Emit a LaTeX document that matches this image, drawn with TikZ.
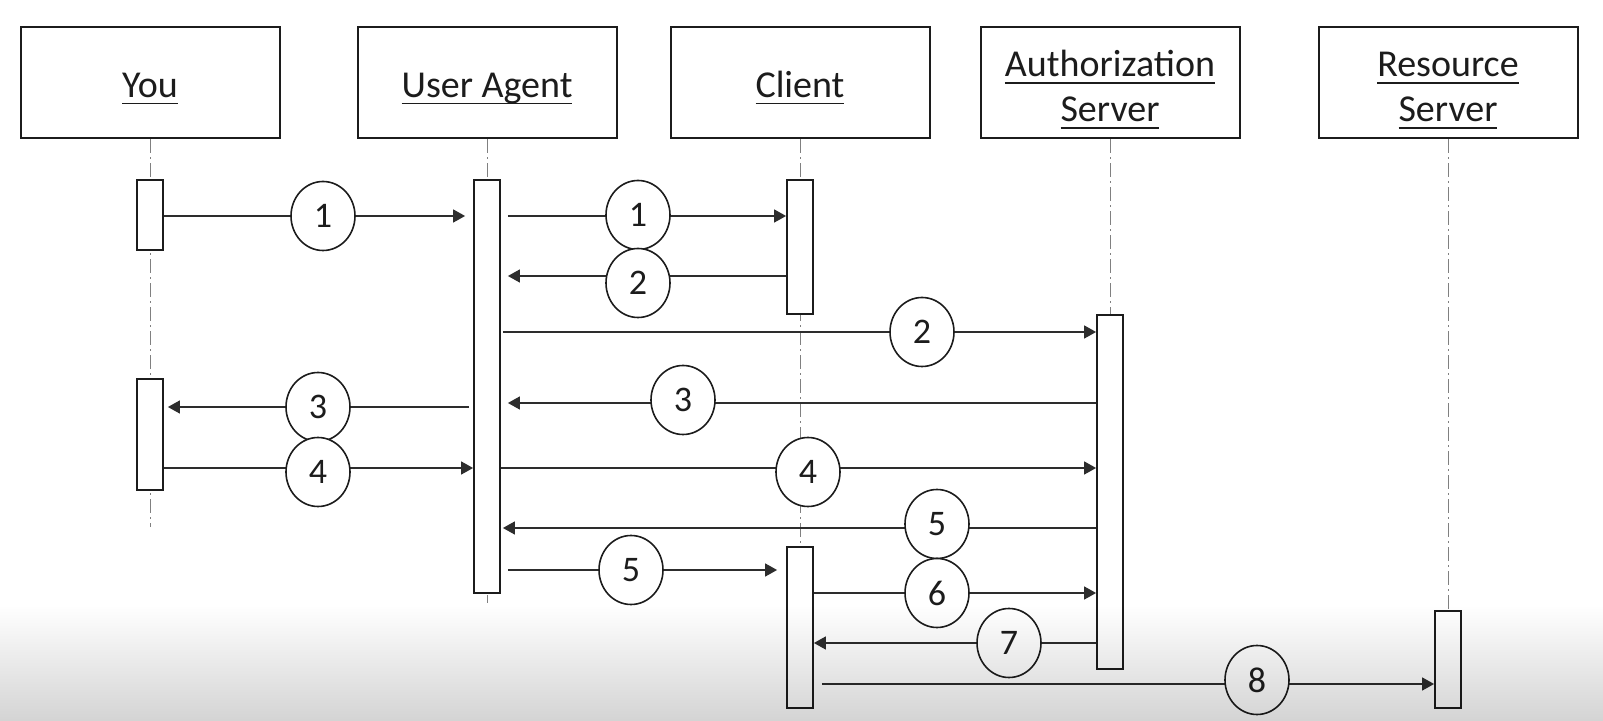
\documentclass[tikz,border=0pt]{standalone}
\usepackage{fontspec}
\setmainfont{Carlito}
\usepackage{tikz}
\usetikzlibrary{arrows.meta,shapes.geometric}
\definecolor{ink}{RGB}{28,28,28}
\definecolor{wire}{RGB}{45,45,45}
\newcommand{\ulbl}[1]{\setbox0=\hbox{#1}\rlap{\rule[-3.5pt]{\wd0}{0.9pt}}\box0}
\tikzset{
  actor/.style={draw=ink, line width=1pt, minimum width=129.5pt, minimum height=55.5pt,
    align=center, inner sep=0pt, text=ink, font=\fontsize{19}{22.5}\selectfont,
    execute at begin node=\rule{0pt}{18pt}},
  life/.style={draw=gray, line width=0.5pt, dash pattern=on 7pt off 2pt on 1pt off 2pt},
  bar/.style={draw=ink, line width=0.9pt, fill=white, minimum width=13pt, inner sep=0pt},
  num/.style={ellipse, draw=ink, line width=0.8pt, fill=white, minimum width=32pt,
    minimum height=34.5pt, inner sep=0pt, text=ink, font=\fontsize{18}{20}\selectfont},
  msg/.style={draw=wire, line width=0.75pt, -{Triangle[length=6pt,width=6.5pt]}}
}
\begin{document}
\begin{tikzpicture}[x=0.5pt,y=-0.5pt]
  \useasboundingbox (0,0) rectangle (1603,721);
  % participants
  \foreach \nm/\x/\txt in {you/150/\ulbl{You}, ua/487/\ulbl{User Agent}, cl/800/\ulbl{Client},
      au/1110/\rule{0pt}{20pt}\ulbl{Authorization}\\\ulbl{Server},
      rs/1448/\rule{0pt}{20pt}\ulbl{Resource}\\\ulbl{Server}}
    \node[actor] (\nm) at (\x,83) {\txt};
  % lifelines
  \draw[life] (you) -- (you |- 0,527);
  \draw[life] (ua) -- (ua |- 0,603);
  \draw[life] (cl) -- (cl |- 0,560);
  \draw[life] (au) -- (au |- 0,320);
  \draw[life] (rs) -- (rs |- 0,615);
  % activation bars
  \node[bar, minimum height=35pt]    (you1) at (you |- 0,215) {};
  \node[bar, minimum height=55.5pt]  (you2) at (you |- 0,434.5) {};
  \node[bar, minimum height=206.5pt] (uab)  at (ua |- 0,386.5) {};
  \node[bar, minimum height=67pt]    (cl1)  at (cl |- 0,247) {};
  \node[bar, minimum height=80.5pt]  (cl2)  at (cl |- 0,627.5) {};
  \node[bar, minimum height=177pt]   (aub)  at (au |- 0,492) {};
  \node[bar, minimum height=48.5pt]  (rsb)  at (rs |- 0,659.5) {};
  % messages
  \draw[msg,shorten >=4pt] (you1.east |- 0,216) -- (uab.west |- 0,216);
  \draw[msg,shorten <=3.5pt] (uab.east |- 0,216) -- (cl1.west |- 0,216);
  \draw[msg,shorten >=3.5pt] (cl1.west |- 0,276) -- (uab.east |- 0,276);
  \draw[msg,shorten <=1pt] (uab.east |- 0,332) -- (aub.west |- 0,332);
  \draw[msg,shorten >=3.5pt] (aub.west |- 0,403) -- (uab.east |- 0,403);
  \draw[msg,shorten <=2pt,shorten >=2pt] (uab.west |- 0,407) -- (you2.east |- 0,407);
  \draw[msg] (you2.east |- 0,468) -- (uab.west |- 0,468);
  \draw[msg] (uab.east |- 0,468) -- (aub.west |- 0,468);
  \draw[msg,shorten >=1pt] (aub.west |- 0,528) -- (uab.east |- 0,528);
  \draw[msg,shorten <=3.5pt,shorten >=4.5pt] (uab.east |- 0,570) -- (cl2.west |- 0,570);
  \draw[msg] (cl2.east |- 0,593) -- (aub.west |- 0,593);
  \draw[msg] (aub.west |- 0,643) -- (cl2.east |- 0,643);
  \draw[msg,shorten <=4pt] (cl2.east |- 0,684) -- (rsb.west |- 0,684);
  \node[num] (m1)  at (323,216) {1};
  \node[num] (m2)  at (638,215) {1};
  \node[num] (m3)  at (638,283) {2};
  \node[num] (m4)  at (922,332) {2};
  \node[num] (m5)  at (683,400) {3};
  \node[num] (m6)  at (318,407) {3};
  \node[num] (m7)  at (318,472) {4};
  \node[num] (m8)  at (808,472) {4};
  \node[num] (m9)  at (937,524) {5};
  \node[num] (m10) at (631,570) {5};
  \node[num] (m11) at (937,593) {6};
  \node[num] (m12) at (1009,643) {7};
  \node[num] (m13) at (1257,680) {8};
  % screen shading
  \shade[blend mode=multiply,top color=white,bottom color=black!17] (0,605) rectangle (1603,721);
\end{tikzpicture}
\end{document}
